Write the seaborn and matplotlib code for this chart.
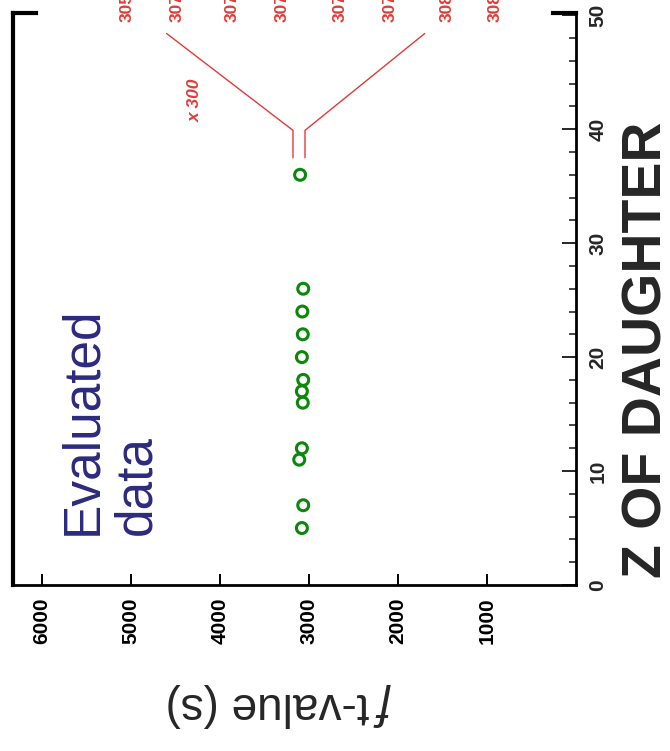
import numpy as np
import pandas as pd
import matplotlib
matplotlib.use("Agg")
import matplotlib.pyplot as plt
import seaborn as sns

# Evaluated ft-values vs Z of daughter
z_daughter = [5, 7, 11, 12, 16, 17, 18, 20, 22, 24, 26, 36]
ft_value = [3080, 3065, 3110, 3080, 3070, 3080, 3065, 3080, 3070, 3075, 3065, 3100]

# magnified (x 300) labels at the top, cut off by the figure edge as in the original
top_labels = ["3058", "3074", "3071", "3073", "3077", "3075", "3086", "3082"]
top_label_ft = [5045, 4483, 3865, 3303, 2652, 2090, 1449, 910]
top_label_z = 49.4

# red bracket ("x 300" zoom) lines
left_ft = [4600, 3180, 3180]
left_z = [48.4, 39.9, 37.5]
right_ft = [1700, 3045, 3045]
right_z = [48.4, 39.9, 37.5]

ft_ticks = [1000, 2000, 3000, 4000, 5000, 6000]
z_ticks = [0, 10, 20, 30, 40, 50]

sns.set_theme(style="ticks")
plt.rcParams['font.family'] = ['Liberation Sans', 'DejaVu Sans']

red = '#e23b36'
navy = '#2d2a7f'

fig = plt.figure(figsize=(6.70, 7.51), dpi=100)
ax = fig.add_axes([13 / 670, 1 - 585 / 751, 563 / 670, 572 / 751])

df = pd.DataFrame({'ft': ft_value, 'z': z_daughter})
sns.scatterplot(data=df, x='ft', y='z', marker='o', s=62, facecolor='none',
                edgecolor='#0b880b', linewidth=2.2, ax=ax, zorder=3)

ax.plot(left_ft, left_z, color=red, lw=1.0)
ax.plot(right_ft, right_z, color=red, lw=1.0)

for lab, xf in zip(top_labels, top_label_ft):
    ax.text(xf, top_label_z, lab, rotation=90, ha='center', va='bottom',
            color=red, fontsize=12.5, fontweight='bold', clip_on=False)

ax.text(4281, 42.5, 'x 300', rotation=90, ha='center', va='center',
        color=red, fontsize=12.5, fontweight='bold', fontstyle='italic')

ax.text(0.08, 0.087, 'Evaluated\ndata', transform=ax.transAxes, rotation=90,
        ha='left', va='bottom', multialignment='left', color=navy,
        fontsize=37, linespacing=1.15)

ax.set_xlim(6326, 0)
ax.set_ylim(0, 50.2)

ax.set_xticks(ft_ticks)
ax.set_xticklabels([str(t) for t in ft_ticks], rotation=90, fontweight='bold', fontsize=15)
ax.yaxis.tick_right()
ax.set_yticks(z_ticks)
ax.set_yticks(np.arange(0, 51, 2), minor=True)
ax.set_yticklabels([str(t) for t in z_ticks], rotation=90, fontweight='bold',
                   fontsize=15, va='center')

ax.tick_params(axis='x', direction='in', length=8, width=1.4, pad=9, colors='black')
ax.tick_params(axis='y', which='major', direction='in', length=10, width=1.4, pad=9,
               right=True, left=False)
ax.tick_params(axis='y', which='minor', direction='in', length=5, width=1.2,
               right=True, left=False)

for side in ['left', 'bottom', 'right']:
    ax.spines[side].set_color('black')
ax.spines['left'].set_linewidth(3)
ax.spines['bottom'].set_linewidth(2)
ax.spines['right'].set_linewidth(2)
ax.spines['top'].set_visible(False)

# short corner pieces of the top frame
ax.plot([0, 0.04], [1, 1], transform=ax.transAxes, color='black', lw=3,
        clip_on=False, solid_capstyle='projecting')
ax.plot([0.96, 1], [1, 1], transform=ax.transAxes, color='black', lw=3,
        clip_on=False, solid_capstyle='projecting')

ax.yaxis.set_label_position('right')
ax.set_ylabel('Z OF DAUGHTER', fontsize=40, fontweight='bold', rotation=90)
ax.yaxis.set_label_coords(1.08, 0.411)

ax.set_xlabel('ƒt-value (s)', fontsize=33, rotation=180)
ax.xaxis.set_label_coords(0.474, -0.172)

ax.grid(False)
fig.savefig('out.png', dpi=100)
